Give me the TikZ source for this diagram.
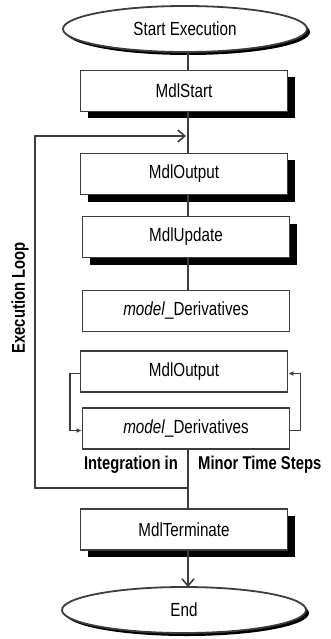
\documentclass[tikz,border=0pt]{standalone}
\usepackage{fontspec}
\setmainfont[FakeStretch=0.8]{Liberation Sans}
\usetikzlibrary{shapes.geometric,shadows,arrows.meta,calc}
\begin{document}
\begin{tikzpicture}[x=1pt,y=-1pt,
  every node/.style={font=\fontsize{19}{22}\selectfont},
  linecol/.style={draw=black!76,line width=1.8pt},
  procbox/.style={rectangle,linecol,fill=white,minimum width=207pt,minimum height=41pt,inner sep=0pt},
  shadowbox/.style={procbox,drop shadow={shadow xshift=7pt,shadow yshift=-7pt,fill=black,opacity=1}},
  termnode/.style={ellipse,linecol,fill=white,minimum width=244pt,minimum height=46pt,inner sep=0pt,
    drop shadow={shadow xshift=3pt,shadow yshift=-3pt,fill=black,opacity=1}},
  conn/.style={linecol},
  bigtip/.style={-{Straight Barb[length=7pt,width=12pt,line width=1.6pt]}},
  smalltip/.style={-{Latex[length=5pt,width=5pt]}},
  lbl/.style={font=\fontsize{18.5}{20}\selectfont\bfseries,inner sep=0pt}
]
\useasboundingbox (0,0) rectangle (330,639);
\fill[white] (0,0) rectangle (330,639);

\node[termnode] (start) at (185,29) {Start Execution};
\node[shadowbox] (mstart) at (184,91) {MdlStart};
\node[shadowbox] (out1) at (184,174) {MdlOutput};
\node[shadowbox] (upd) at (186,237) {MdlUpdate};
\node[procbox] (der1) at (186,311) {\textit{model}\_Derivatives};
\node[procbox] (out2) at (184,371.5) {MdlOutput};
\node[procbox] (der2) at (186,428.5) {\textit{model}\_Derivatives};
\node[shadowbox] (term) at (184,529.5) {MdlTerminate};
\node[termnode] (end) at (184,610) {End};

\coordinate (spine) at (188,0);
\coordinate (loopin) at (186,136);
\coordinate (loopout) at (188,488);
\coordinate (lbot) at (35,488);
\coordinate (ltop) at (35,136);

\draw[conn] (start.south -| spine) -- (mstart.north -| spine);
\draw[conn] (mstart.south -| spine) -- (out1.north -| spine);
\draw[conn] (out1.south -| spine) -- (upd.north -| spine);
\draw[conn] (upd.south -| spine) -- (der1.north -| spine);
\draw[conn] (der2.south -| spine) -- (term.north -| spine);
\draw[conn,bigtip] (term.south -| spine) -- ([yshift=-1pt]end.north -| spine);

\draw[conn,bigtip] (loopout) -- (lbot) -- (ltop) -- (loopin);

\draw[conn,smalltip] ([yshift=-2pt]out2.west) -- ++(-10,0) |- ([yshift=-2pt]der2.west);
\draw[conn,smalltip] ([yshift=-2pt]der2.east) -- ++(10,0) |- ([yshift=-2pt]out2.east);

\node[lbl,anchor=east] (integ) at (178,465) {Integration in};
\node[lbl,anchor=west] (minor) at (198,465) {Minor Time Steps};
\node[lbl,rotate=90] (exloop) at (20,298) {Execution Loop};
\end{tikzpicture}
\end{document}
